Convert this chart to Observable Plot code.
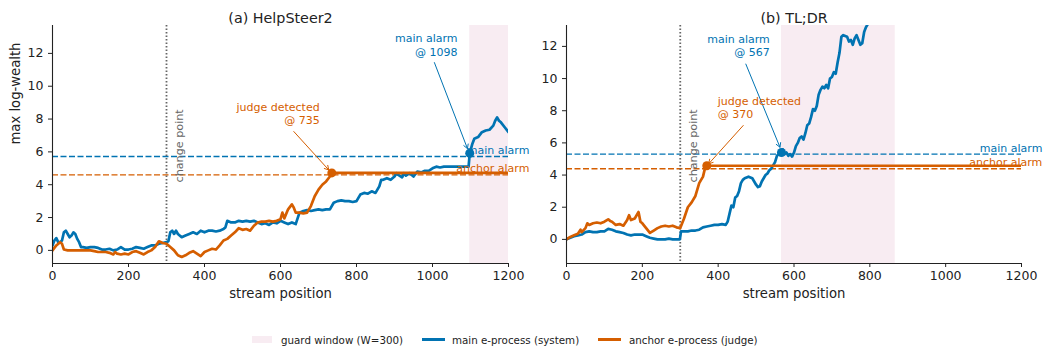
<!DOCTYPE html>
<html><head><meta charset="utf-8">
<script src="https://cdn.jsdelivr.net/npm/d3@7"></script>
<script src="https://cdn.jsdelivr.net/npm/@observablehq/plot@0.6"></script>
<style>
body{margin:0;background:#fff;font-family:"DejaVu Sans",sans-serif;}
#wrap{position:relative;width:1043px;height:352px;overflow:hidden;}
.panel{position:absolute;top:0;}
.lg{position:absolute;font-size:10.3px;color:#222;white-space:nowrap;line-height:12px;}
.sw{position:absolute;}
</style></head><body>
<div id="wrap">
  <div id="pa" class="panel" style="left:0px"></div>
  <div id="pb" class="panel" style="left:520px"></div>
  <div class="sw" style="left:252px;top:336px;width:20px;height:7px;background:#f8ecf2"></div>
  <div class="lg" style="left:281px;top:334px">guard window (W=300)</div>
  <div class="sw" style="left:422px;top:338px;width:23px;height:3px;background:#0173b2"></div>
  <div class="lg" style="left:452px;top:334px">main e-process (system)</div>
  <div class="sw" style="left:598px;top:338px;width:23px;height:3px;background:#d55e00"></div>
  <div class="lg" style="left:629px;top:334px">anchor e-process (judge)</div>
</div>
<script>
const BLUE = "#0173b2", ORANGE = "#d55e00";
const xTicks = [0, 200, 400, 600, 800, 1000, 1200];
const yTicks = [0, 2, 4, 6, 8, 10, 12];
const titles = ["(a) HelpSteer2", "(b) TL;DR"];
const changePoint = 300;

// (a) HelpSteer2 — main e-process (system)
const hsMain = [[0,0.3],[5,0.6],[10,0.75],[15,0.5],[20,0.5],[25,0.6],[30,1.1],[35,1.2],[40,1.0],[45,0.8],[50,0.9],[55,1.1],[60,1.0],[65,0.7],[70,0.5],[75,0.2],[80,0.2],[90,0.15],[100,0.2],[110,0.2],[120,0.15],[130,0.05],[140,0.05],[150,0.1],[160,0.0],[170,0.05],[180,0.2],[190,0.05],[200,0.05],[210,0.1],[220,0.2],[230,0.15],[240,0.1],[250,0.2],[260,0.3],[270,0.3],[280,0.4],[290,0.45],[300,0.5],[305,0.55],[310,1.1],[315,1.2],[320,1.0],[325,1.2],[330,1.0],[340,0.8],[350,0.9],[360,1.0],[370,1.1],[380,1.0],[390,1.2],[400,1.1],[410,1.2],[420,1.2],[430,1.15],[440,1.2],[450,1.3],[455,1.4],[460,1.8],[470,1.7],[480,1.7],[490,1.8],[500,1.75],[510,1.8],[520,1.75],[530,1.8],[540,1.7],[550,1.6],[560,1.65],[570,1.55],[580,1.7],[590,1.65],[600,1.8],[610,1.7],[620,1.6],[630,1.7],[640,1.6],[650,2.3],[660,2.4],[670,2.45],[680,2.4],[690,2.45],[700,2.5],[710,2.45],[720,2.5],[730,2.5],[740,2.9],[750,3.0],[760,3.05],[770,3.0],[780,3.0],[790,2.95],[800,3.0],[810,3.4],[820,3.5],[830,3.45],[840,3.6],[850,3.5],[860,3.9],[865,4.3],[870,4.3],[880,4.4],[890,4.3],[900,4.5],[905,4.7],[910,4.6],[920,4.45],[925,4.7],[930,4.55],[940,4.7],[950,4.5],[960,4.8],[970,4.75],[980,4.85],[990,4.85],[1000,5.0],[1010,5.1],[1020,5.05],[1030,5.1],[1040,5.1],[1060,5.1],[1080,5.1],[1095,5.1],[1098,5.92],[1105,6.5],[1110,6.8],[1120,6.9],[1130,7.2],[1140,7.3],[1150,7.35],[1160,7.6],[1165,7.9],[1170,8.1],[1175,7.9],[1180,7.8],[1190,7.5],[1200,7.2]];
// (a) HelpSteer2 — anchor e-process (judge)
const hsAnchor = [[0,0.0],[10,0.3],[20,0.5],[25,0.4],[30,0.05],[40,0.0],[50,0.0],[60,0.0],[70,0.0],[80,0.0],[90,0.0],[100,0.0],[110,-0.05],[120,-0.1],[130,-0.1],[140,-0.1],[150,-0.15],[160,-0.25],[165,-0.1],[170,-0.2],[180,-0.25],[190,-0.2],[200,-0.25],[210,-0.1],[220,-0.05],[230,-0.15],[240,-0.25],[250,-0.1],[260,0.0],[270,0.2],[280,0.55],[290,0.45],[300,0.4],[310,0.2],[320,0.0],[330,-0.3],[340,-0.4],[350,-0.3],[360,-0.15],[370,-0.05],[380,-0.2],[390,-0.35],[400,-0.1],[410,0.0],[420,0.1],[430,0.05],[440,0.3],[450,0.6],[460,0.7],[470,0.9],[480,1.1],[490,1.35],[500,1.25],[510,1.3],[520,1.2],[530,1.5],[540,1.7],[550,1.75],[560,1.75],[570,1.8],[580,1.75],[590,1.8],[600,1.9],[605,2.3],[610,1.95],[620,2.5],[630,2.8],[635,2.6],[640,2.3],[650,2.3],[660,2.25],[670,2.3],[680,2.7],[690,3.3],[700,3.7],[710,4.0],[720,4.2],[730,4.5],[735,4.72],[1200,4.72]];

// (b) TL;DR — main e-process (system)
const tlMain = [[0,0.0],[10,0.1],[20,0.2],[30,0.25],[40,0.3],[50,0.45],[60,0.5],[70,0.45],[80,0.45],[90,0.5],[100,0.5],[110,0.65],[120,0.6],[130,0.5],[140,0.45],[150,0.4],[160,0.3],[170,0.25],[180,0.3],[190,0.3],[200,0.3],[210,0.2],[220,0.1],[230,0.05],[240,0.0],[260,0.0],[270,0.05],[280,0.0],[299,0.0],[302,0.5],[310,0.5],[320,0.5],[330,0.55],[340,0.55],[350,0.6],[360,0.75],[370,0.8],[380,0.85],[390,0.9],[400,0.9],[410,0.95],[420,0.9],[425,1.1],[430,1.6],[435,2.1],[440,2.0],[445,2.6],[450,2.7],[455,3.0],[460,3.5],[465,3.7],[470,3.8],[480,3.9],[490,3.8],[495,3.6],[500,3.4],[505,3.25],[510,3.3],[515,3.6],[520,3.8],[525,4.0],[530,4.1],[535,4.3],[540,4.4],[545,4.6],[550,4.8],[555,5.2],[560,5.3],[567,5.4],[570,5.6],[575,5.3],[580,5.4],[585,5.2],[590,5.3],[595,5.15],[600,5.4],[605,5.8],[610,6.0],[615,6.3],[620,6.4],[625,6.2],[630,6.6],[635,7.1],[640,7.2],[645,7.6],[650,8.1],[655,8.0],[660,8.3],[665,9.0],[670,9.3],[675,9.5],[680,9.4],[685,9.6],[690,9.4],[695,10.0],[700,10.1],[705,10.4],[710,10.3],[715,11.0],[720,11.6],[725,12.6],[730,12.7],[740,12.6],[745,12.3],[750,12.4],[755,12.1],[760,12.5],[765,12.7],[770,12.4],[775,12.1],[780,12.2],[785,12.9],[790,13.2],[795,13.4]];
// (b) TL;DR — anchor e-process (judge)
const tlAnchor = [[0,0.0],[10,0.15],[20,0.25],[30,0.35],[37,0.6],[40,0.45],[50,0.7],[55,1.0],[60,0.9],[70,1.0],[80,1.05],[90,1.0],[100,1.1],[110,1.25],[115,1.15],[120,1.1],[130,0.9],[140,0.95],[150,0.85],[160,1.2],[165,1.5],[170,1.2],[180,1.3],[190,1.7],[195,1.1],[200,1.0],[210,0.7],[220,0.4],[230,0.55],[240,0.7],[250,0.8],[260,0.85],[270,0.8],[280,0.85],[290,0.75],[300,0.7],[305,1.0],[310,1.3],[320,2.0],[330,2.3],[340,2.7],[350,3.5],[360,3.9],[365,4.4],[370,4.58],[1200,4.58]];

const yDomains = [[-0.8, 13.7], [-1.5, 13.3]];
const mainThresholds = [5.72, 5.3];
const anchorThresholds = [4.6, 4.39];
const mainAlarms = [[1098, 5.92], [567, 5.4]];
const judgeDetections = [[735, 4.72], [370, 4.58]];
const guardWindow = 300;

function makePanel(i, opts) {
  const yd = yDomains[i];
  const ma = mainAlarms[i], jd = judgeDetections[i];
  const guard = {x1: ma[0], x2: Math.min(ma[0] + guardWindow, 1200)};
  const marks = [
    Plot.rect([guard], {x1: "x1", x2: "x2", y1: yd[0], y2: yd[1], fill: "#f8ecf2"}),
    Plot.ruleY([mainThresholds[i]], {stroke: BLUE, strokeWidth: 1.4, strokeDasharray: "6,2.5"}),
    Plot.ruleY([anchorThresholds[i]], {stroke: ORANGE, strokeWidth: 1.4, strokeDasharray: "6,2.5"}),
    Plot.ruleX([changePoint], {stroke: "#666", strokeWidth: 1.8, strokeDasharray: "1.6,1.9"}),
    Plot.text(["change point"], {x: changePoint, frameAnchor: "top", dy: 157, dx: 9, rotate: -90, textAnchor: "start", fill: "#666", fontSize: 11.2}),
    Plot.line(opts.main, {x: d => d[0], y: d => d[1], stroke: BLUE, strokeWidth: 2.7, clip: true}),
    Plot.line(opts.anchor, {x: d => d[0], y: d => d[1], stroke: ORANGE, strokeWidth: 2.7, clip: true}),
    Plot.dot([ma], {x: d => d[0], y: d => d[1], r: 4.5, fill: BLUE}),
    Plot.dot([jd], {x: d => d[0], y: d => d[1], r: 4.5, fill: ORANGE}),
    Plot.text(["main alarm"], {x: 1255, y: mainThresholds[i], dy: -6, textAnchor: "end", fill: BLUE, fontSize: 11}),
    Plot.text(["anchor alarm"], {x: 1255, y: anchorThresholds[i], dy: -6, textAnchor: "end", fill: ORANGE, fontSize: 11}),
    Plot.text([opts.mainNote], {x: "x", y: "y", text: "t", textAnchor: opts.mainNote.a, lineAnchor: "middle", lineHeight: 1.2, fill: BLUE, fontSize: 11}),
    Plot.arrow([opts.mainNote], {x1: "ax1", y1: "ay1", x2: "ax2", y2: "ay2", stroke: BLUE, strokeWidth: 1, headLength: 7}),
    Plot.text([opts.judgeNote], {x: "x", y: "y", text: "t", textAnchor: opts.judgeNote.a, lineAnchor: "middle", lineHeight: 1.2, fill: ORANGE, fontSize: 11}),
    Plot.arrow([opts.judgeNote], {x1: "ax1", y1: "ay1", x2: "ax2", y2: "ay2", stroke: ORANGE, strokeWidth: 1, headLength: 7}),
    Plot.ruleX([0], {stroke: "#222", strokeWidth: 1.1}),
    Plot.ruleY([yd[0]], {stroke: "#222", strokeWidth: 1.1}),
    Plot.axisX({ticks: xTicks, tickFormat: d => String(d), tickSize: 4, tickPadding: 4, fontSize: 12.5, label: null}),
    Plot.axisY({ticks: yTicks, tickFormat: d => String(d), tickSize: 4, tickPadding: 5, fontSize: 12.5, label: null}),
    Plot.text(["stream position"], {frameAnchor: "bottom", dy: 34, fontSize: 13.2, fill: "#222"}),
    Plot.text([titles[i]], {frameAnchor: "top", dy: -13, fontSize: 14.3, fill: "#222"})
  ];
  if (opts.yLabel) marks.push(Plot.text([opts.yLabel], {frameAnchor: "left", dx: -37, rotate: -90, fontSize: 13.2, fill: "#222"}));
  return Plot.plot({
    width: opts.width, height: 310,
    marginLeft: opts.ml, marginRight: opts.mr, marginTop: 25, marginBottom: 47,
    style: {background: "transparent", overflow: "visible", fontFamily: "DejaVu Sans", color: "#222"},
    x: {domain: [0, 1200], label: null},
    y: {domain: yd, label: null},
    marks
  });
}

document.getElementById("pa").appendChild(makePanel(0, {
  width: 520, ml: 52, mr: 12, main: hsMain, anchor: hsAnchor, yLabel: "max log-wealth",
  mainNote: {x: 1066, y: 12.53, t: "main alarm\n@ 1098", a: "end", ax1: 1005, ay1: 11.44, ax2: 1092, ay2: 6.2},
  judgeNote: {x: 703, y: 8.36, t: "judge detected\n@ 735", a: "end", ax1: 635, ay1: 7.24, ax2: 727, ay2: 4.9}
}));
document.getElementById("pb").appendChild(makePanel(1, {
  width: 523, ml: 46, mr: 22, main: tlMain, anchor: tlAnchor, yLabel: null,
  mainNote: {x: 536, y: 12.05, t: "main alarm\n@ 567", a: "end", ax1: 473, ay1: 10.9, ax2: 563, ay2: 5.73},
  judgeNote: {x: 399, y: 8.22, t: "judge detected\n@ 370", a: "start", ax1: 466, ay1: 7.08, ax2: 375, ay2: 4.7}
}));
</script>
</body></html>
